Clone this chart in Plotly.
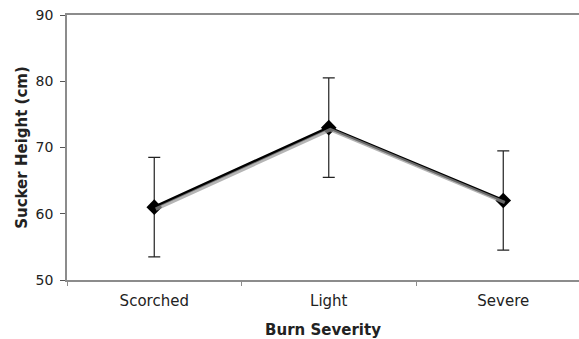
import plotly.graph_objects as go

categories = ["Scorched", "Light", "Severe"]
heights = [61.0, 73.0, 62.0]
errors = [7.5, 7.5, 7.5]
y_ticks = [50, 60, 70, 80, 90]

W, H = 579, 339
ml, mr, mt, mb = 67, 0, 15, 59
x_range = [-0.5, 2.434]
y_range = [50, 90]

# shadow offset (pixels) converted to axis units
px_per_x = (W - ml - mr) / (x_range[1] - x_range[0])
px_per_y = (H - mt - mb) / (y_range[1] - y_range[0])
dx, dy = 1.5, 2.0

fig = go.Figure()

# soft shadow under the line
fig.add_trace(go.Scatter(
    x=categories, y=heights, mode="lines",
    line=dict(color="rgba(150,150,150,0.7)", width=3.5),
    xaxis="x2", yaxis="y2", hoverinfo="skip", showlegend=False,
))

fig.add_trace(go.Scatter(
    x=categories, y=heights, mode="lines+markers",
    line=dict(color="black", width=3.2),
    marker=dict(symbol="diamond", size=12, color="black"),
    error_y=dict(type="data", array=errors, visible=True,
                 color="#222222", thickness=1.2, width=6),
    showlegend=False,
))

axis_gray = "#8c8c8c"
fig.update_layout(
    width=W, height=H,
    margin=dict(l=ml, r=mr, t=mt, b=mb, autoexpand=False),
    paper_bgcolor="white", plot_bgcolor="white",
    font=dict(family="DejaVu Sans, Verdana, sans-serif", size=15, color="#222222"),
    xaxis=dict(
        type="category", range=x_range, tickson="boundaries",
        ticks="outside", ticklen=4, tickcolor=axis_gray, tickwidth=1,
        showline=True, linecolor=axis_gray, linewidth=1.5, mirror=True,
        showgrid=False, zeroline=False, automargin=False,
        ticklabelstandoff=6,
        title=dict(text="<b>Burn Severity</b>", standoff=16, font=dict(size=15)),
        tickfont=dict(size=15),
    ),
    yaxis=dict(
        range=y_range, tickvals=y_ticks,
        ticks="outside", ticklen=5, tickcolor="#555555", tickwidth=1,
        showline=True, linecolor=axis_gray, linewidth=1.5,
        showgrid=False, zeroline=False, automargin=False,
        ticklabelstandoff=4,
        title=dict(text="<b>Sucker Height (cm)</b>", standoff=4, font=dict(size=15)),
        tickfont=dict(size=14),
    ),
    xaxis2=dict(
        type="category", overlaying="x",
        range=[x_range[0] - dx / px_per_x, x_range[1] - dx / px_per_x],
        visible=False,
    ),
    yaxis2=dict(
        overlaying="y",
        range=[y_range[0] + dy / px_per_y, y_range[1] + dy / px_per_y],
        visible=False,
    ),
)

fig.write_html(
    "out.html",
    config={"displayModeBar": False},
    post_script="document.body.style.margin='0';document.body.style.overflow='hidden';",
)
